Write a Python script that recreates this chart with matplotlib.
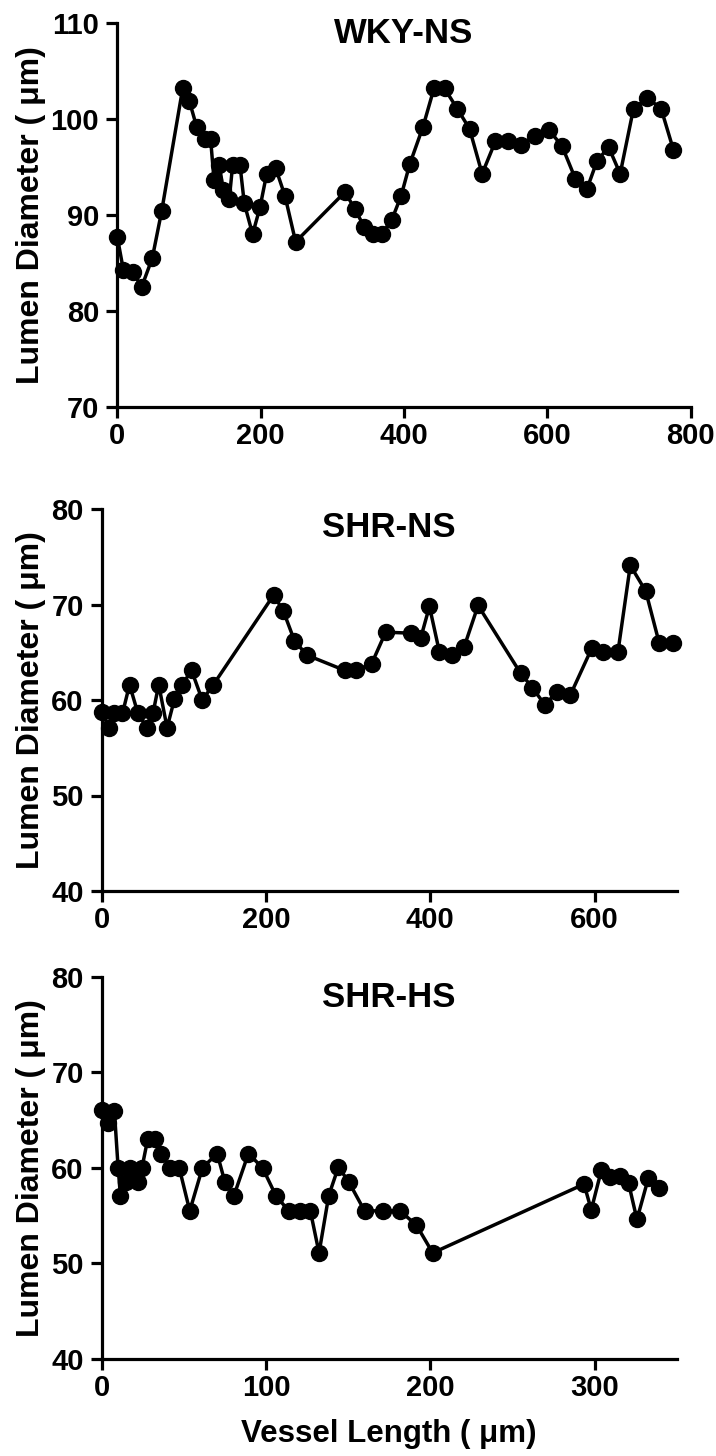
import matplotlib
matplotlib.use("Agg")
import matplotlib.pyplot as plt

plt.rcParams['font.family'] = ['Liberation Sans', 'DejaVu Sans']
plt.rcParams['font.weight'] = 'bold'

# WKY-NS
wky_x = [0, 8.4, 21.4, 34, 48.8, 61.9, 91.2, 100.5, 110.7, 122.3, 130.2, 134.9, 142.3,
         147.9, 156.3, 160.9, 171.2, 177.2, 188.8, 199.1, 208.4, 220.9, 233.9, 248.8,
         317.7, 331.6, 344.2, 357.2, 369, 383, 396, 408, 426.5, 441.8, 456.6, 474.2,
         491.4, 509, 527.6, 545.2, 563.8, 582.3, 601.9, 620.4, 639, 655.2, 669.1, 685.4,
         701.6, 720.2, 739.7, 758.7, 775.9]
wky_y = [87.7, 84.3, 84.1, 82.5, 85.5, 90.4, 103.2, 101.9, 99.2, 97.9, 97.9, 93.7, 95.2,
         92.6, 91.7, 95.2, 95.2, 91.2, 88.0, 90.8, 94.3, 94.9, 92.0, 87.2,
         92.4, 90.6, 88.8, 88.0, 88.0, 89.5, 92.0, 95.3, 99.2, 103.2, 103.2, 101.1,
         99.0, 94.3, 97.7, 97.7, 97.3, 98.2, 98.9, 97.2, 93.8, 92.7, 95.6, 97.1,
         94.3, 101.1, 102.2, 101.1, 96.8]

# SHR-NS
shr_ns_x = [0, 9.4, 15.1, 25.3, 33.9, 44.1, 55.1, 62.4, 69.4, 79.6, 88.6, 98, 109.4,
            122.4, 135.9, 209.4, 221.2, 234.7, 249.8, 295.9, 309.4, 328.6, 345.7, 376,
            388.4, 399, 411.2, 426.3, 441.4, 458.2, 510, 524.3, 539.4, 554.1, 570.4,
            596.5, 610, 628.4, 643.5, 662.3, 678.6, 695.8]
shr_ns_y = [58.7, 57.1, 58.6, 58.6, 61.6, 58.6, 57.1, 58.6, 61.6, 57.1, 60.1, 61.6, 63.1,
            60.0, 61.6, 71.0, 69.3, 66.2, 64.7, 63.1, 63.1, 63.8, 67.1, 67.0,
            66.5, 69.8, 65.0, 64.7, 65.6, 69.9, 62.8, 61.3, 59.5, 60.8, 60.5,
            65.4, 65.0, 65.0, 74.1, 71.4, 66.0, 66.0]

# SHR-HS
shr_hs_x = [0, 3.6, 7.7, 10, 11.4, 15, 17, 22, 24.5, 28, 32.6, 36.2, 41.6, 47.2, 53.6,
            61.3, 70.3, 75, 80.5, 89.3, 97.9, 106, 113.8, 120.9, 127, 132.3, 138.2,
            144.1, 150.5, 160, 171.5, 181.6, 191.6, 201.5, 293.6, 298, 304.2, 309.5,
            315.6, 320.7, 325.8, 332.7, 339.4]
shr_hs_y = [66.1, 64.7, 66.0, 60, 57.1, 58.5, 60, 58.5, 60, 63, 63, 61.5, 60, 60, 55.5,
            60, 61.5, 58.5, 57.1, 61.5, 60, 57.1, 55.5, 55.5, 55.5, 51.1, 57.1,
            60.1, 58.5, 55.5, 55.5, 55.5, 54.0, 51.1, 58.3, 55.6, 59.8, 59.0,
            59.1, 58.4, 54.6, 58.9, 57.9]

W, H = 716, 1456
fig = plt.figure(figsize=(W / 100, H / 100), dpi=100)


def make_axes(left, top, right, bottom):
    """pixel box -> figure axes"""
    return fig.add_axes([left / W, 1 - bottom / H, (right - left) / W, (bottom - top) / H])


panels = [
    (make_axes(117.3, 23.3, 690.7, 406.7), wky_x, wky_y, 'WKY-NS',
     (0, 800), [0, 200, 400, 600, 800], (70, 110), [70, 80, 90, 100, 110], 0.949, -0.124),
    (make_axes(101.7, 509, 676.7, 891), shr_ns_x, shr_ns_y, 'SHR-NS',
     (0, 700), [0, 200, 400, 600], (40, 80), [40, 50, 60, 70, 80], 0.927, -0.097),
    (make_axes(101.7, 976.7, 676.7, 1359), shr_hs_x, shr_hs_y, 'SHR-HS',
     (0, 350), [0, 100, 200, 300], (40, 80), [40, 50, 60, 70, 80], 0.921, -0.097),
]

for ax, x, y, title, xlim, xticks, ylim, yticks, title_y, ylab_x in panels:
    ax.plot(x, y, color='black', linewidth=2.5, marker='o', markersize=11.5,
            clip_on=False, zorder=3)
    ax.set_xlim(*xlim)
    ax.set_ylim(*ylim)
    ax.set_xticks(xticks)
    ax.set_yticks(yticks)
    for side in ['top', 'right']:
        ax.spines[side].set_visible(False)
    for side in ['left', 'bottom']:
        ax.spines[side].set_linewidth(2.3)
    ax.tick_params(axis='both', direction='out', length=8, width=2.3, labelsize=21)
    ax.tick_params(axis='x', pad=3)
    ax.tick_params(axis='y', pad=5)
    for lbl in ax.get_xticklabels() + ax.get_yticklabels():
        lbl.set_fontweight('bold')
    ax.text(0.5, title_y, title, transform=ax.transAxes, ha='center', va='baseline',
            fontsize=25, fontweight='bold')
    ax.set_ylabel('Lumen Diameter ( \u03bcm)', fontsize=23, fontweight='bold')
    ax.yaxis.set_label_coords(ylab_x, 0.5)

panels[2][0].set_xlabel('Vessel Length ( \u03bcm)', fontsize=22.5, fontweight='bold', labelpad=12)

fig.savefig('out.png', dpi=100)
